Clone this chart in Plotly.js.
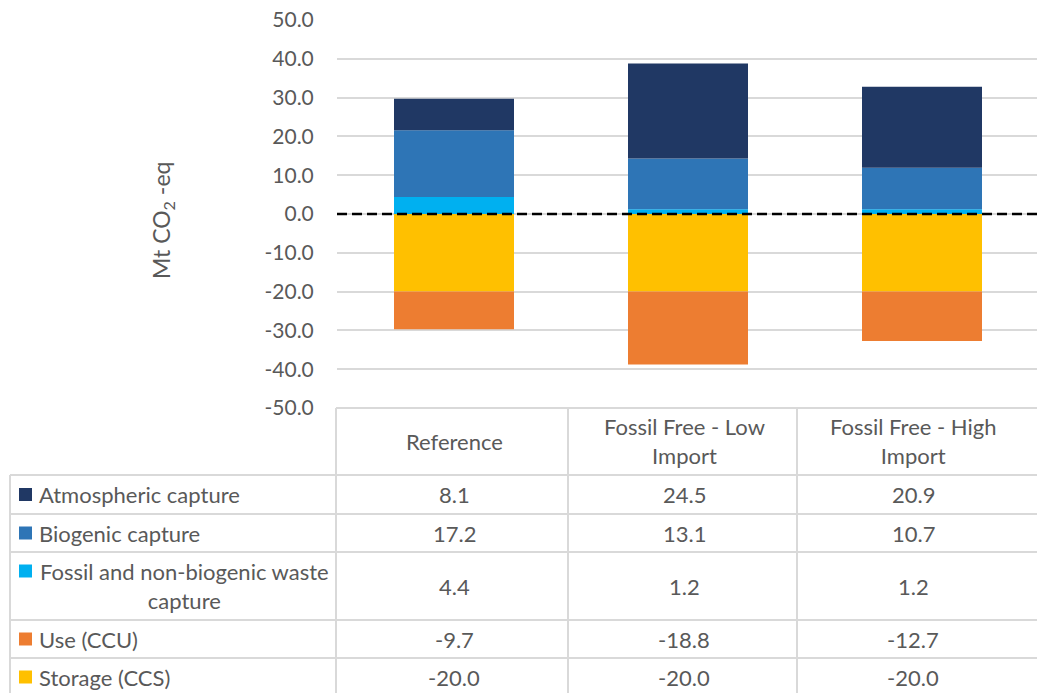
<!DOCTYPE html>
<html>
<head>
<meta charset="utf-8">
<script src="https://cdn.plot.ly/plotly-3.0.1.min.js"></script>
<style>
  html, body { margin: 0; padding: 0; background: #ffffff; }
  #chart { width: 1037px; height: 693px; }
</style>
</head>
<body>
<div id="chart"></div>
<script>
// Scenarios (columns of the data table)
const scenarios = ['Reference', 'Fossil Free - Low Import', 'Fossil Free - High Import'];
const scenarioHeaders = ['Reference', 'Fossil Free - Low<br>Import', 'Fossil Free - High<br>Import'];

// Series, Mt CO2-eq per scenario
const atmosphericCapture = [8.1, 24.5, 20.9];
const biogenicCapture = [17.2, 13.1, 10.7];
const fossilWasteCapture = [4.4, 1.2, 1.2];
const useCCU = [-9.7, -18.8, -12.7];
const storageCCS = [-20.0, -20.0, -20.0];

const seriesNames = ['Atmospheric capture', 'Biogenic capture', 'Fossil and non-biogenic waste capture', 'Use (CCU)', 'Storage (CCS)'];
const seriesColors = ['#203864', '#2E75B6', '#00B0F0', '#ED7D31', '#FFC000'];

// Y axis ticks
const yTicks = [-50, -40, -30, -20, -10, 0, 10, 20, 30, 40, 50];

// ---- Page geometry (pixels) ----
const W = 1037, H = 693;
const plotLeft = 337, plotRight = 1037, plotTop = 20, plotBottom = 408;
const catWidth = 234;
const fx = p => (p - plotLeft) / (plotRight - plotLeft);
const fy = p => (plotBottom - p) / (plotBottom - plotTop);

const textColor = '#595959';
const fontFamily = 'Lato, "Open Sans", sans-serif';
const tickFontSize = 21;
const cellFontSize = 22;
const gridColor = '#D9D9D9';

// Table layout
const tableLeft = 10;
const colLines = [336, 568, 797];
const colCenters = [454, 684, 913];
const headerTop = 408, headerBottom = 475;
const rowLines = [475, 514, 552, 620, 658, 696];

// Bars stack outward from zero in trace order
const stackOrder = [
  { name: seriesNames[2], y: fossilWasteCapture, color: seriesColors[2] },
  { name: seriesNames[1], y: biogenicCapture, color: seriesColors[1] },
  { name: seriesNames[0], y: atmosphericCapture, color: seriesColors[0] },
  { name: seriesNames[4], y: storageCCS, color: seriesColors[4] },
  { name: seriesNames[3], y: useCCU, color: seriesColors[3] }
];

const traces = stackOrder.map(s => ({
  type: 'bar',
  name: s.name,
  x: scenarios,
  y: s.y,
  width: 120 / catWidth,
  marker: { color: s.color, line: { width: 0 } },
  hoverinfo: 'x+y+name'
}));

// Table rows in display order
const tableRows = [
  { label: seriesNames[0], values: atmosphericCapture, color: seriesColors[0] },
  { label: seriesNames[1], values: biogenicCapture, color: seriesColors[1] },
  { label: seriesNames[2], values: fossilWasteCapture, color: seriesColors[2] },
  { label: seriesNames[3], values: useCCU, color: seriesColors[3] },
  { label: seriesNames[4], values: storageCCS, color: seriesColors[4] }
];

const shapes = [];
const annotations = [];

// Dashed zero line
shapes.push({
  type: 'line', xref: 'paper', yref: 'y', x0: 0, x1: 1, y0: 0, y1: 0,
  line: { color: '#000000', width: 2.5, dash: '10px,5px' }
});

// Table grid lines
const tableLine = { color: gridColor, width: 2 };
shapes.push({ type: 'line', xref: 'paper', yref: 'paper', x0: fx(colLines[0]), x1: fx(W), y0: fy(headerTop), y1: fy(headerTop), line: tableLine });
rowLines.forEach(r => {
  shapes.push({ type: 'line', xref: 'paper', yref: 'paper', x0: fx(tableLeft), x1: fx(W), y0: fy(r), y1: fy(r), line: tableLine });
});
colLines.forEach(c => {
  shapes.push({ type: 'line', xref: 'paper', yref: 'paper', x0: fx(c), x1: fx(c), y0: fy(headerTop), y1: fy(H + 5), line: tableLine });
});
shapes.push({ type: 'line', xref: 'paper', yref: 'paper', x0: fx(tableLeft), x1: fx(tableLeft), y0: fy(headerBottom), y1: fy(H + 5), line: tableLine });

const cellFont = { family: fontFamily, size: cellFontSize, color: textColor };

// Header cells
scenarioHeaders.forEach((h, i) => {
  annotations.push({
    xref: 'paper', yref: 'paper', x: fx(colCenters[i]), y: fy((headerTop + headerBottom) / 2),
    text: h, showarrow: false, xanchor: 'center', yanchor: 'middle', align: 'center', font: cellFont
  });
});

// Body rows
tableRows.forEach((row, r) => {
  const top = rowLines[r], bottom = rowLines[r + 1];
  const mid = (top + bottom) / 2;
  const twoLine = r === 2;
  const swatchMid = twoLine ? top + 19 : mid;
  shapes.push({
    type: 'rect', xref: 'paper', yref: 'paper',
    x0: fx(19), x1: fx(32), y0: fy(swatchMid - 6.5), y1: fy(swatchMid + 6.5),
    fillcolor: row.color, line: { width: 0 }
  });
  if (twoLine) {
    annotations.push({
      xref: 'paper', yref: 'paper', x: fx(184), y: fy(mid),
      text: 'Fossil and non-biogenic waste<br>capture', showarrow: false,
      xanchor: 'center', yanchor: 'middle', align: 'center', font: cellFont
    });
  } else {
    annotations.push({
      xref: 'paper', yref: 'paper', x: fx(37), y: fy(mid),
      text: row.label, showarrow: false, xanchor: 'left', yanchor: 'middle', align: 'left', font: cellFont
    });
  }
  row.values.forEach((v, i) => {
    annotations.push({
      xref: 'paper', yref: 'paper', x: fx(colCenters[i]), y: fy(mid),
      text: v.toFixed(1), showarrow: false, xanchor: 'center', yanchor: 'middle', font: cellFont
    });
  });
});

// Y axis title
annotations.push({
  xref: 'paper', yref: 'paper', x: fx(163), y: fy(221),
  text: 'Mt CO<sub>2</sub> -eq', textangle: -90, showarrow: false,
  xanchor: 'center', yanchor: 'middle', font: { family: fontFamily, size: 23, color: textColor }
});

const layout = {
  width: W, height: H,
  margin: { l: plotLeft, r: W - plotRight, t: plotTop, b: H - plotBottom, pad: 0 },
  paper_bgcolor: '#ffffff', plot_bgcolor: '#ffffff',
  barmode: 'relative',
  showlegend: false,
  xaxis: {
    type: 'category',
    range: [-0.5, -0.5 + (plotRight - plotLeft) / catWidth],
    showticklabels: false, showgrid: false, zeroline: false, showline: false, ticks: ''
  },
  yaxis: {
    range: [-50, 50],
    tickvals: yTicks,
    ticktext: yTicks.map(v => v.toFixed(1)),
    showgrid: true, gridcolor: gridColor, gridwidth: 2,
    zeroline: false, showline: false,
    ticks: 'outside', ticklen: 18, tickcolor: 'rgba(0,0,0,0)',
    tickfont: { family: fontFamily, size: tickFontSize, color: textColor }
  },
  shapes: shapes,
  annotations: annotations,
  font: cellFont
};

Plotly.newPlot('chart', traces, layout, { displayModeBar: false, staticPlot: true });
</script>
</body>
</html>
